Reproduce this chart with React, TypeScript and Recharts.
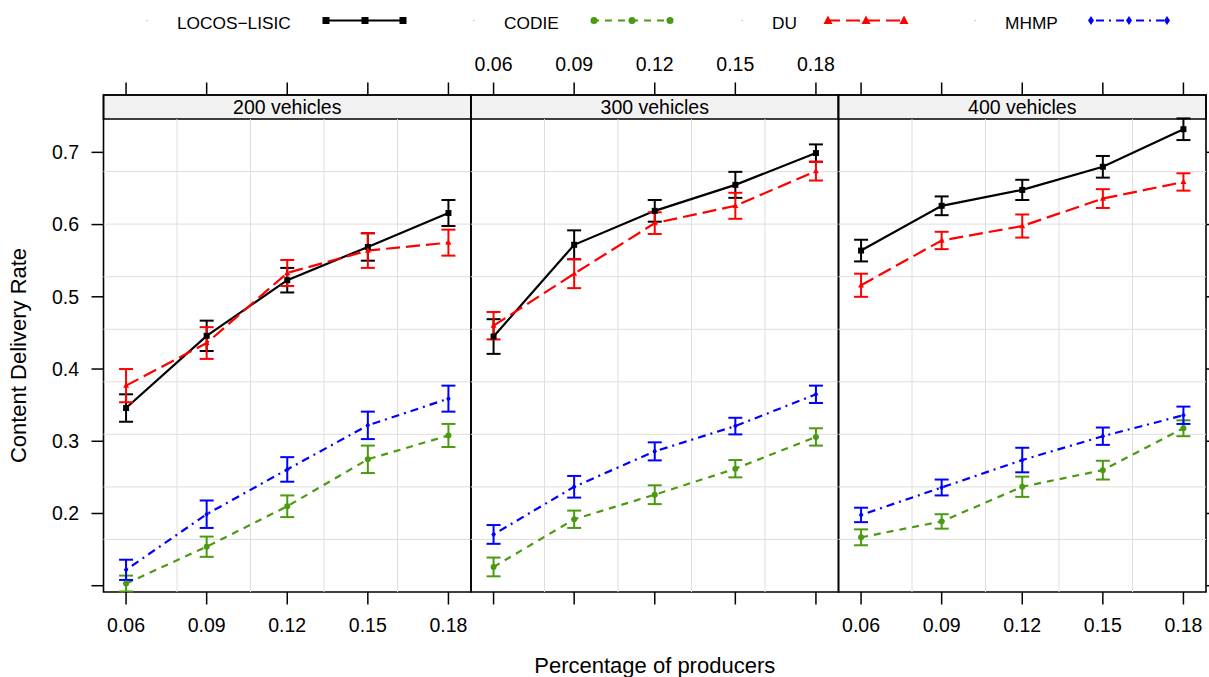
import React from 'react';
import {
  LineChart,
  Line,
  XAxis,
  YAxis,
  ErrorBar,
  ReferenceArea,
  ReferenceLine,
  Customized,
} from 'recharts';

// ---------------- data ----------------
const producers = [0.06, 0.09, 0.12, 0.15, 0.18];
const panelNames = ['200 vehicles', '300 vehicles', '400 vehicles'];
const xTicks = [0.06, 0.09, 0.12, 0.15, 0.18];
const yTicks = [0.1, 0.2, 0.3, 0.4, 0.5, 0.6, 0.7];
const seriesNames = ['LOCOS\u2212LISIC', 'CODIE', 'DU', 'MHMP'];

// rows: 200, 300, 400 vehicles; columns: producers
const locosMean = [
  [0.346, 0.446, 0.523, 0.569, 0.616],
  [0.445, 0.572, 0.619, 0.655, 0.699],
  [0.564, 0.626, 0.648, 0.68, 0.732],
];
const locosErr = [
  [0.019, 0.021, 0.017, 0.019, 0.018],
  [0.024, 0.02, 0.015, 0.018, 0.012],
  [0.015, 0.013, 0.014, 0.015, 0.015],
];
const codieMean = [
  [0.103, 0.154, 0.21, 0.275, 0.308],
  [0.126, 0.192, 0.226, 0.262, 0.306],
  [0.167, 0.189, 0.237, 0.26, 0.318],
];
const codieErr = [
  [0.011, 0.014, 0.015, 0.019, 0.016],
  [0.013, 0.012, 0.013, 0.012, 0.012],
  [0.011, 0.01, 0.014, 0.013, 0.011],
];
const duMean = [
  [0.377, 0.436, 0.533, 0.564, 0.575],
  [0.46, 0.532, 0.602, 0.626, 0.674],
  [0.516, 0.578, 0.598, 0.636, 0.659],
];
const duErr = [
  [0.023, 0.022, 0.018, 0.024, 0.018],
  [0.019, 0.02, 0.015, 0.018, 0.013],
  [0.016, 0.012, 0.016, 0.013, 0.012],
];
const mhmpMean = [
  [0.122, 0.199, 0.261, 0.322, 0.359],
  [0.171, 0.237, 0.286, 0.321, 0.365],
  [0.198, 0.236, 0.274, 0.307, 0.336],
];
const mhmpErr = [
  [0.014, 0.019, 0.017, 0.019, 0.018],
  [0.013, 0.015, 0.0125, 0.0115, 0.012],
  [0.01, 0.011, 0.017, 0.012, 0.012],
];

// ---------------- layout / style ----------------
const W = 1209;
const H = 677;
const PLOT_TOP = 95; // top of strip
const PLOT_BOTTOM = 592;
const PANEL_LEFT = [103.5, 471, 838.5];
const PANEL_W = 367.5;
const AXIS_H = 40;
const YAXIS_W = 60;

const X_DOMAIN: [number, number] = [0.0516, 0.1884];
const Y_MIN = 0.0913;
const Y_PANEL_TOP = 0.7461;
const Y_STRIP_TOP = 0.7794;

const FONT = '"Liberation Sans", Arial, Helvetica, sans-serif';
const TICK_FS = 19.5;

const BLACK = '#000000';
const GREEN = '#4a9a12';
const RED = '#ff0000';
const BLUE = '#0000ff';
const GRID = '#dedede';

const hGrid = Array.from({ length: 8 }, (_, k) => Y_MIN + ((k + 1) * (Y_PANEL_TOP - Y_MIN)) / 9);
const vGrid = Array.from({ length: 4 }, (_, k) => X_DOMAIN[0] + ((k + 1) * (X_DOMAIN[1] - X_DOMAIN[0])) / 5);

// ---------------- markers ----------------
const squareDot = (color: string, s: number) => (p: any) => {
  if (p.cx == null || p.cy == null) return <g key={p.index} />;
  return <rect key={p.index} x={p.cx - s / 2} y={p.cy - s / 2} width={s} height={s} fill={color} />;
};
const circleDot = (color: string, r: number) => (p: any) => {
  if (p.cx == null || p.cy == null) return <g key={p.index} />;
  return <circle key={p.index} cx={p.cx} cy={p.cy} r={r} fill={color} />;
};
const triDot = (color: string, s: number) => (p: any) => {
  if (p.cx == null || p.cy == null) return <g key={p.index} />;
  const h = s * 0.9;
  return (
    <polygon
      key={p.index}
      points={`${p.cx},${p.cy - h * 0.6} ${p.cx - s / 2},${p.cy + h * 0.4} ${p.cx + s / 2},${p.cy + h * 0.4}`}
      fill={color}
    />
  );
};
const diamondDot = (color: string, s: number) => (p: any) => {
  if (p.cx == null || p.cy == null) return <g key={p.index} />;
  return (
    <polygon
      key={p.index}
      points={`${p.cx},${p.cy - s / 2} ${p.cx + s / 2.6},${p.cy} ${p.cx},${p.cy + s / 2} ${p.cx - s / 2.6},${p.cy}`}
      fill={color}
    />
  );
};

// ---------------- legend + titles (drawn in chart svg) ----------------
const legendLayout = [
  { dotX: 147, textX: 177, x1: 324, x2: 406, marks: [326, 365, 403], color: BLACK, dash: undefined as string | undefined, shape: 'square' },
  { dotX: 474, textX: 504, x1: 592, x2: 672, marks: [594, 632, 670], color: GREEN, dash: '7 6', shape: 'circle' },
  { dotX: 742, textX: 772, x1: 826, x2: 906, marks: [828, 866, 904], color: RED, dash: '14 6', shape: 'tri' },
  { dotX: 975, textX: 1005, x1: 1089, x2: 1169, marks: [1091, 1129, 1167], color: BLUE, dash: '2 5 8 5', shape: 'diamond' },
];

const Decorations = () => {
  const ly = 20.5;
  return (
    <g fontFamily={FONT}>
      {legendLayout.map((g, i) => (
        <g key={i}>
          <circle cx={g.dotX} cy={ly} r={0.8} fill="#bbbbbb" />
          <text x={g.textX} y={29} fontSize={17.3} fill="#000">
            {seriesNames[i]}
          </text>
          <line x1={g.x1} x2={g.x2} y1={ly} y2={ly} stroke={g.color} strokeWidth={2.2} strokeDasharray={g.dash} />
          {g.marks.map((m, j) => {
            if (g.shape === 'square') return <rect key={j} x={m - 3.5} y={ly - 3.5} width={7} height={7} fill={g.color} />;
            if (g.shape === 'circle') return <circle key={j} cx={m} cy={ly} r={3.5} fill={g.color} />;
            if (g.shape === 'tri')
              return <polygon key={j} points={`${m},${ly - 5} ${m - 4.5},${ly + 3.5} ${m + 4.5},${ly + 3.5}`} fill={g.color} />;
            return <polygon key={j} points={`${m},${ly - 4.5} ${m + 3},${ly} ${m},${ly + 4.5} ${m - 3},${ly}`} fill={g.color} />;
          })}
        </g>
      ))}
      <text
        x={25.5}
        y={355.5}
        fontSize={22}
        fill="#000"
        textAnchor="middle"
        transform="rotate(-90 25.5 355.5)"
      >
        Content Delivery Rate
      </text>
      <text x={654.75} y={673} fontSize={22} fill="#000" textAnchor="middle">
        Percentage of producers
      </text>
    </g>
  );
};

// ---------------- panel ----------------
const tickLine = { stroke: '#000', strokeWidth: 1.5 };
const tickStyle = { fill: '#000', fontSize: TICK_FS, fontFamily: FONT };

function Panel({ i }: { i: number }) {
  const data = producers.map((x, j) => ({
    x,
    locos: locosMean[i][j],
    locosErr: locosErr[i][j],
    codie: codieMean[i][j],
    codieErr: codieErr[i][j],
    du: duMean[i][j],
    duErr: duErr[i][j],
    mhmp: mhmpMean[i][j],
    mhmpErr: mhmpErr[i][j],
  }));
  const left = i === 0 ? PANEL_LEFT[0] - YAXIS_W : PANEL_LEFT[i];
  const right = W - (PANEL_LEFT[i] + PANEL_W) - (i === 2 ? 3 : 0);
  const margin = { top: PLOT_TOP - AXIS_H, bottom: H - PLOT_BOTTOM - AXIS_H, left, right };

  return (
    <div style={{ position: 'absolute', left: 0, top: 0, width: W, height: H }}>
      <LineChart width={W} height={H} data={data} margin={margin}>
        <XAxis
          dataKey="x"
          type="number"
          domain={X_DOMAIN}
          allowDataOverflow
          ticks={xTicks}
          interval={0}
          height={AXIS_H}
          axisLine={false}
          tickSize={12.5}
          tickMargin={13.5}
          tickLine={tickLine}
          tick={tickStyle}
          tickFormatter={(v: number) => (i === 1 ? '' : v.toFixed(2))}
        />
        <XAxis
          xAxisId="top"
          dataKey="x"
          orientation="top"
          type="number"
          domain={X_DOMAIN}
          allowDataOverflow
          ticks={xTicks}
          interval={0}
          height={AXIS_H}
          axisLine={false}
          tickSize={12.5}
          tickMargin={11.5}
          tickLine={tickLine}
          tick={tickStyle}
          tickFormatter={(v: number) => (i === 1 ? v.toFixed(2) : '')}
        />
        <YAxis
          type="number"
          domain={[Y_MIN, Y_STRIP_TOP]}
          allowDataOverflow
          ticks={yTicks}
          interval={0}
          hide={i !== 0}
          width={YAXIS_W}
          axisLine={false}
          tickSize={12}
          tickMargin={12.5}
          tickLine={tickLine}
          tick={tickStyle}
          tickFormatter={(v: number) => (v < 0.15 ? '' : v.toFixed(1))}
        />
        {i === 2 && (
          <YAxis
            yAxisId="r"
            orientation="right"
            type="number"
            domain={[Y_MIN, Y_STRIP_TOP]}
            allowDataOverflow
            ticks={yTicks}
            interval={0}
            width={3}
            axisLine={false}
            tickSize={12}
            tickLine={tickLine}
            tick={tickStyle}
            tickFormatter={() => ''}
          />
        )}

        {hGrid.map((gy, k) => (
          <ReferenceLine key={'h' + k} y={gy} stroke={GRID} strokeWidth={1} />
        ))}
        {vGrid.map((gx, k) => (
          <ReferenceLine
            key={'v' + k}
            segment={[
              { x: gx, y: Y_MIN },
              { x: gx, y: Y_PANEL_TOP },
            ]}
            stroke={GRID}
            strokeWidth={1}
          />
        ))}
        <ReferenceArea
          x1={X_DOMAIN[0]}
          x2={X_DOMAIN[1]}
          y1={Y_PANEL_TOP}
          y2={Y_STRIP_TOP}
          fill="#f2f2f2"
          fillOpacity={1}
          stroke="#000"
          strokeWidth={1.6}
          ifOverflow="visible"
          label={{ value: panelNames[i], position: 'center', fontSize: TICK_FS, fill: '#000', fontFamily: FONT }}
        />

        {/* invisible carrier so the top axis gets its numeric scale */}
        <Line
          xAxisId="top"
          type="linear"
          dataKey="locos"
          stroke="transparent"
          strokeWidth={0}
          dot={false}
          activeDot={false}
          legendType="none"
          isAnimationActive={false}
        />

        <Line
          type="linear"
          dataKey="locos"
          stroke={BLACK}
          strokeWidth={2.2}
          dot={squareDot(BLACK, 6)}
          activeDot={false}
          isAnimationActive={false}
        >
          <ErrorBar dataKey="locosErr" direction="y" width={7} stroke={BLACK} strokeWidth={2} />
        </Line>
        <Line
          type="linear"
          dataKey="codie"
          stroke={GREEN}
          strokeWidth={2.2}
          strokeDasharray="7 6"
          dot={circleDot(GREEN, 3)}
          activeDot={false}
          isAnimationActive={false}
        >
          <ErrorBar dataKey="codieErr" direction="y" width={7} stroke={GREEN} strokeWidth={2} />
        </Line>
        <Line
          type="linear"
          dataKey="du"
          stroke={RED}
          strokeWidth={2.2}
          strokeDasharray="14 6"
          dot={triDot(RED, 6)}
          activeDot={false}
          isAnimationActive={false}
        >
          <ErrorBar dataKey="duErr" direction="y" width={7} stroke={RED} strokeWidth={2} />
        </Line>
        <Line
          type="linear"
          dataKey="mhmp"
          stroke={BLUE}
          strokeWidth={2.2}
          strokeDasharray="2 5 8 5"
          dot={diamondDot(BLUE, 6)}
          activeDot={false}
          isAnimationActive={false}
        >
          <ErrorBar dataKey="mhmpErr" direction="y" width={7} stroke={BLUE} strokeWidth={2} />
        </Line>

        <ReferenceArea
          x1={X_DOMAIN[0]}
          x2={X_DOMAIN[1]}
          y1={Y_MIN}
          y2={Y_STRIP_TOP}
          fill="none"
          fillOpacity={0}
          stroke="#000"
          strokeWidth={1.6}
          ifOverflow="visible"
        />
        {i === 0 && <Customized component={Decorations} />}
      </LineChart>
    </div>
  );
}

export default function App() {
  return (
    <div
      style={{
        position: 'absolute',
        left: 0,
        top: 0,
        width: W,
        height: H,
        background: '#ffffff',
        fontFamily: FONT,
      }}
    >
      {panelNames.map((_, i) => (
        <Panel key={i} i={i} />
      ))}
    </div>
  );
}
